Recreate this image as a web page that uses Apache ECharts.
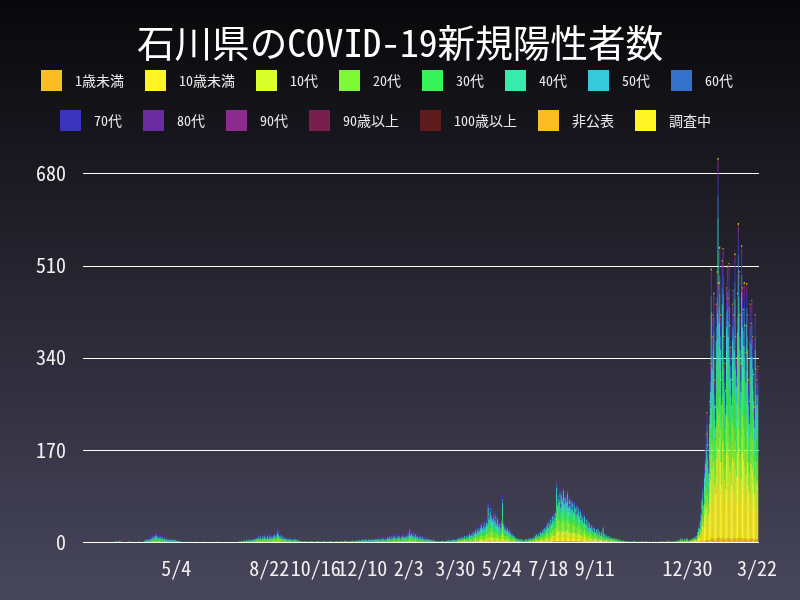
<!DOCTYPE html>
<html><head><meta charset="utf-8">
<script src="https://cdn.jsdelivr.net/npm/echarts@6/dist/echarts.min.js"></script>
<style>html,body{margin:0;padding:0;background:#000}#c{width:800px;height:600px}</style>
</head><body><div id="c"></div>
<script>
// ---------- data ----------
const startDate = '2020-01-15';
const tickLabels = ['2020-05-04','2020-08-22','2020-10-16','2020-12-10','2021-02-03','2021-03-30','2021-05-24','2021-07-18','2021-09-11','2021-12-30','2022-03-22'];
const ageGroups = ['1歳未満','10歳未満','10代','20代','30代','40代','50代','60代','70代','80代','90代','90歳以上','100歳以上','非公表','調査中'];

// daily new cases, one chunk per period
const totals2020a = [0,0,0,0,0,0,0,0,0,0,0,0,0,0,0,0,0,0,0,0,0,0,0,0,0,0,0,0,0,0,0,0,0,0,0,0,0,
  1,0,2,1,0,1,3,0,1,0,0,
  0,0,0,0,0,0,1,2,0,0,0,0,0,0,0,0,0,1,0,1,0,0,0,0,2,
  3,5,4,7,6,9,8,12,10,14,11,15,18,20,16,13,15,12,14,10,13,11,9,12,8,10,7,9,6,8,5,7,4,6,3,5,3,2,4,2,1,2,
  1,0,0,0,1,0,0,0,0,1,0,0,0,0,0,0,0,0,0,1,
  0,0,0,0,0,0,0,0,1,0,0,0,0,0,0,0,0,0,0,0,
  0,0,0,0,1,0,0,0,0,0,0,0,0,0,0,0,0,0,0,0,0,0,0,0,0,0,0,0,0,1];
const totals2020b = [1,0,2,1,0,3,2,1,4,2,3,5,2,4,6,3,5,7,4,8,
  10,8,12,9,14,11,7,13,10,15,12,8,11,14,9,12,16,10,13,11,
  14,18,12,15,20,26,17,13,15,11,14,9,12,8,10,7,
  9,6,8,5,7,4,6,3,5,9,4,3,5,2,3,2,
  1,2,0,1,0,2,1,0,1,0,0,1,2,0,1,0,1,0,0,1,
  2,1,0,1,0,0,1,0,2,1,0,0,1,0,1,2,0,1,0,0,
  1,0,1,2,0,1,0,1,0,2,1,0,1,3,1,0,2,1,0,1,
  2,1,3,1,0,2,3,1,2,4,2];
const totals2021a = [2,4,3,5,3,6,4,5,2,6,4,7,3,5,6,4,
  7,5,9,6,8,10,5,7,9,6,11,8,6,10,7,9,
  12,9,14,11,8,15,10,13,16,12,9,14,11,17,13,10,15,12,18,14,11,16,13,19,15,22,30,
  18,24,20,16,21,14,19,12,17,15,10,14,12,9,13,8,11,7,10,6,9,5,8,4,
  3,5,2,4,1,3,2,0,1,2,1,0,2,1,3,1,0,2,1,3,2,4,1,3,2,5,3,4,6,3,5,7];
const totals2021b = [6,8,5,9,7,11,8,10,13,9,12,15,11,14,18,13,16,20,15,22,18,25,20,28,23,30,26,33,38,29,35,42,31,37,45,40,
  77,
  50,62,70,55,48,60,52,45,58,40,50,35,42,38,30,45,
  90,
  40,35,28,32,25,30,22,26,18,20,15,17,12,14,10,8,
  6,5,7,4,6,3,5,4,2,3,5,4,6,3,7,5,8,6,9,7];
const totals2021c = [10,8,12,15,11,14,18,13,20,16,22,25,19,
  28,24,32,36,30,40,35,45,38,50,42,55,48,60,
  112,
  75,90,82,100,70,95,85,105,78,92,88,80,98,72,85,
  70,82,65,78,60,75,68,55,72,58,66,50,62,45,55,48,
  40,52,38,45,35,42,30,38,28,34,25,30,22,27,20,24,
  18,26,15,22,14,20,12,30,11,17,10,14,9,12,8,
  10,7,9,6,8,5,7,4,6,3,5,2,4,3,2,1,3,2,
  1,0,2,1,0,1,0,0,1,0,1,2,0,1,0,0,1,0,0,1,
  0,1,0,0,2,0,1,0,0,1,0,0,0,1,0,0,1,0,0,0,
  1,0,0,2,0,1,0,0,1,0,3,1,0,2,1,0,1,0,2,1,
  0,3,2,1,4,2,8,3,5,2,6,4,3,7,5,2,4];
const totals2022 = [3,5,4,8,6,10,12,9,
  15,22,30,28, 45,60,90,110, 80,140,170, 200,240,180,150,
  260,330,505,380, 420,460,300,250, 440,500,709, 480,545,420,300,
  520,543,380, 330,280,470,510, 450,515,400, 360,300,440,465,
  420,533,380, 340,460,589,500, 420,330,548,470, 430,480,400,350,
  478,420,300,260, 440,405,447,380, 310,250,420,320, 300,325,0];

// share of each age group (%) in each period chunk above
const ageShares = [
  [0,   0.5, 0.5, 0.5, 1,   1.5], // 1歳未満
  [2,   3,   3,   6,   10,  20 ], // 10歳未満
  [3,   6,   5,   10,  13,  14 ], // 10代
  [15,  24,  16,  20,  24,  14 ], // 20代
  [12,  15,  13,  16,  17,  14 ], // 30代
  [14,  13,  14,  15,  14,  12 ], // 40代
  [16,  12,  14,  13,  10,  9  ], // 50代
  [14,  10,  12,  8,   5,   6  ], // 60代
  [10,  8,   10,  6,   3,   4  ], // 70代
  [8,   5,   7,   3,   1.5, 3  ], // 80代
  [4,   2,   4,   1.5, 0.5, 1.5], // 90代
  [1,   0.5, 0.5, 0.5, 0.3, 0.5], // 90歳以上
  [0,   0,   0.2, 0,   0,   0.2], // 100歳以上
  [0.5, 0.5, 0.5, 0.5, 0.3, 0.3], // 非公表
  [0.5, 0.5, 0.3, 0,   0.4, 0.3]  // 調査中
];

// ---------- build ----------
const colors = ['#fbbd23','#fff426','#d9ff2d','#7dfa35','#35f55a','#36ebab','#36c9da','#3571cc','#3a33be','#6b2ba0','#8c2a8e','#77204e','#5e1c1f','#fbbd23','#fff426'];
const FONT = "'Noto Sans Mono CJK JP','Noto Sans CJK JP','DejaVu Sans Mono',monospace";
const chunks = [totals2020a, totals2020b, totals2021a, totals2021b, totals2021c, totals2022];

function split(total, shares) {
  const sum = shares.reduce((a, b) => a + b, 0);
  const raw = shares.map(s => total * s / sum);
  const fl = raw.map(Math.floor);
  let rem = total - fl.reduce((a, b) => a + b, 0);
  const order = raw.map((r, i) => [r - fl[i], i]).sort((a, b) => b[0] - a[0]);
  for (let k = 0; k < rem; k++) fl[order[k][1]]++;
  return fl;
}
const seriesData = ageGroups.map(() => []);
chunks.forEach((chunk, ci) => {
  const shares = ageShares.map(r => r[ci]);
  chunk.forEach(t => {
    const parts = split(t, shares);
    parts.forEach((v, g) => seriesData[g].push(v));
  });
});
const n = seriesData[0].length;
const dates = [];
const t0 = Date.UTC(2020, 0, 15);
for (let i = 0; i < n; i++) {
  const d = new Date(t0 + i * 86400000);
  dates.push(d.toISOString().slice(0, 10));
}

const chart = echarts.init(document.getElementById('c'), null, {renderer: 'canvas'});
const legendCommon = {
  itemWidth: 21, itemHeight: 21, itemGap: 21, icon: 'rect', padding: 0,
  textStyle: {color: '#ececec', fontSize: 14, fontFamily: FONT, padding: [0, 0, 0, 8]},
  selectedMode: false
};
chart.setOption({
  animation: false,
  backgroundColor: {type: 'linear', x: 0, y: 0, x2: 0, y2: 1,
    colorStops: [{offset: 0, color: '#08080a'}, {offset: 1, color: '#48465c'}]},
  title: {text: '石川県のCOVID-19新規陽性者数', left: 'center', top: 19,
    textStyle: {color: '#ffffff', fontSize: 37.6, fontWeight: 'normal', fontFamily: FONT}},
  legend: [
    Object.assign({left: 41, top: 70, data: ageGroups.slice(0, 8)}, legendCommon),
    Object.assign({left: 60, top: 110, data: ageGroups.slice(8)}, legendCommon)
  ],
  grid: {left: 83, right: 41, top: 152, bottom: 58},
  xAxis: {
    type: 'category', data: dates,
    axisLine: {show: false}, axisTick: {show: false},
    axisLabel: {
      color: '#f0f0f0', fontSize: 20, fontFamily: FONT, margin: 16,
      interval: (idx, val) => tickLabels.includes(val),
      formatter: v => { const p = v.split('-'); return (+p[1]) + '/' + (+p[2]); }
    }
  },
  yAxis: {
    type: 'value', min: 0, max: 720, interval: 170,
    axisLine: {show: false}, axisTick: {show: false},
    axisLabel: {color: '#f0f0f0', fontSize: 20, fontFamily: FONT, margin: 17, showMaxLabel: false},
    splitLine: {show: true, showMaxLine: false, lineStyle: {color: '#ffffff', width: 1}}
  },
  series: ageGroups.map((name, g) => ({
    name, type: 'bar', stack: 'all', data: seriesData[g],
    itemStyle: {color: colors[g]}, barCategoryGap: '0%', barGap: '0%'
  }))
});
</script></body></html>
